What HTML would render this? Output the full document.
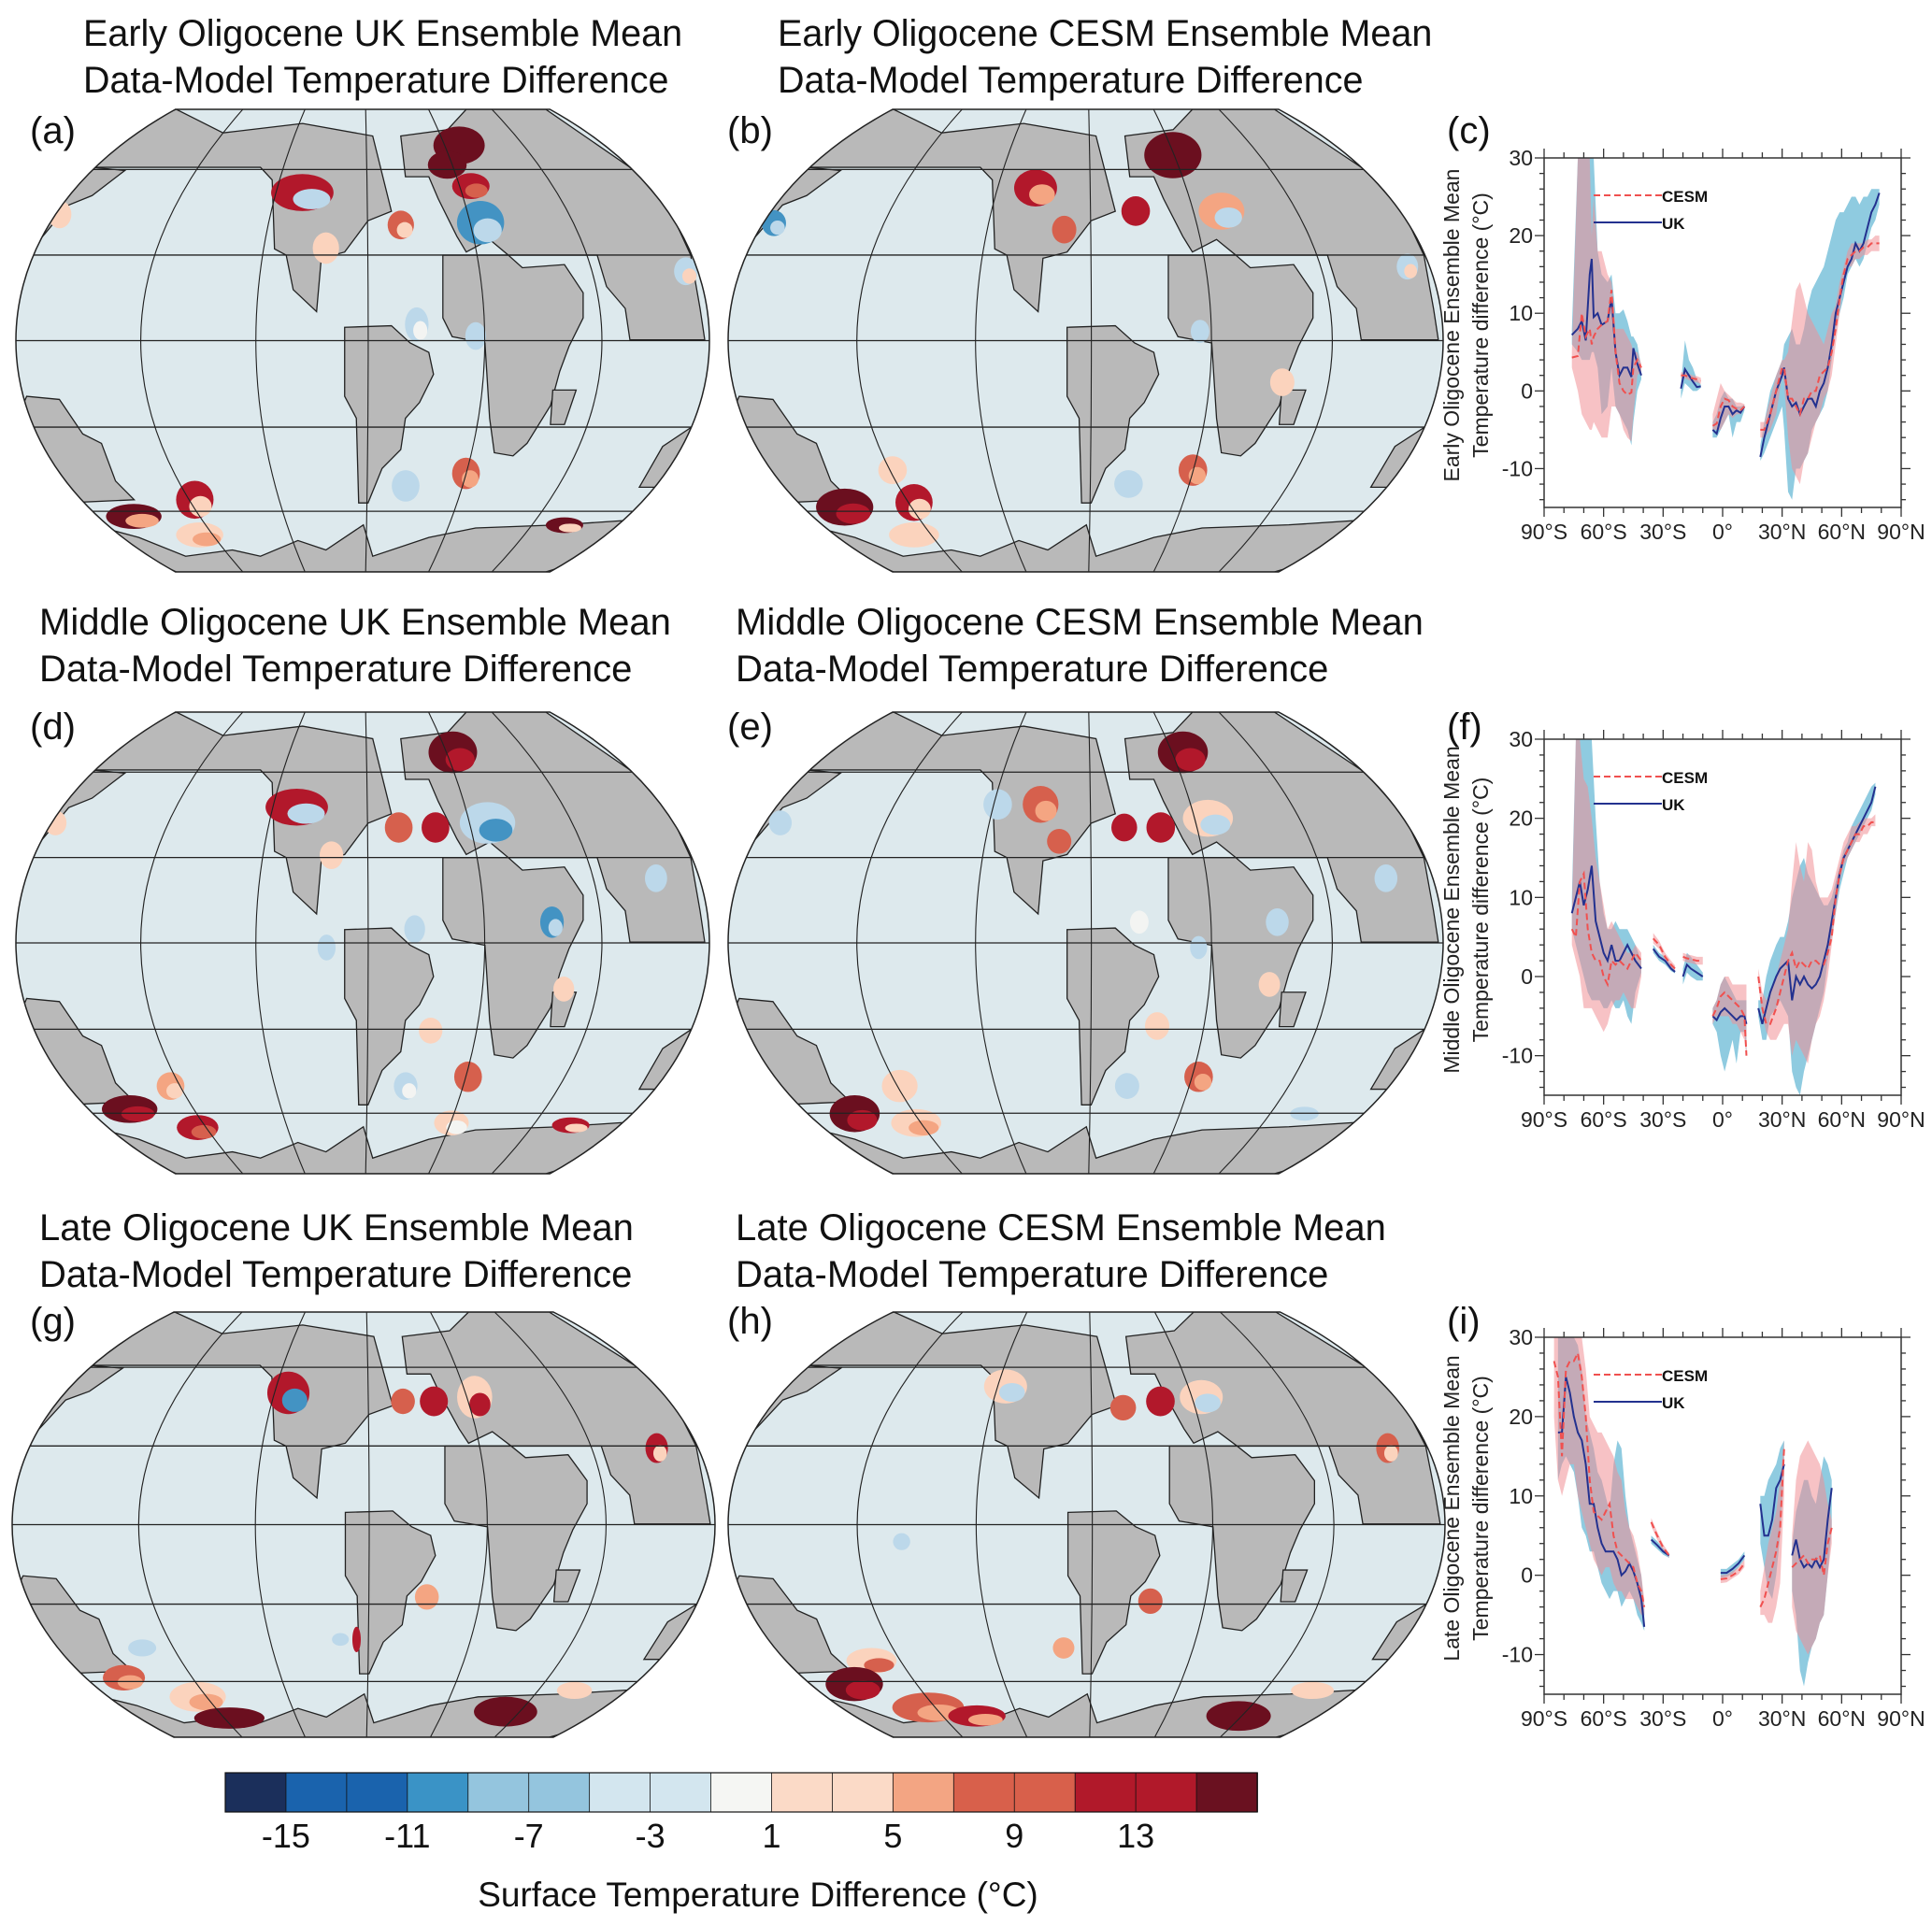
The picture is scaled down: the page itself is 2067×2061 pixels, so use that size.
<!DOCTYPE html>
<html><head><meta charset="utf-8">
<style>
html,body{margin:0;padding:0;background:#fff;}
#root{position:relative;width:2067px;height:2061px;overflow:hidden;font-family:"Liberation Sans",sans-serif;}
.t{position:absolute;font-size:39.5px;line-height:50px;color:#111;white-space:nowrap;}
.t2{font-size:40px;}
.pl{position:absolute;font-size:40px;color:#111;}
svg{position:absolute;left:0;top:0;overflow:visible;}
</style></head>
<body>
<div id="root">
<div class="t" style="left:89px;top:11px">Early Oligocene UK Ensemble Mean<br>Data-Model Temperature Difference</div>
<div class="t" style="left:832px;top:11px">Early Oligocene CESM Ensemble Mean<br>Data-Model Temperature Difference</div>
<div class="t t2" style="left:42px;top:641px">Middle Oligocene UK Ensemble Mean<br>Data-Model Temperature Difference</div>
<div class="t t2" style="left:787px;top:641px">Middle Oligocene CESM Ensemble Mean<br>Data-Model Temperature Difference</div>
<div class="t t2" style="left:42px;top:1289px">Late Oligocene UK Ensemble Mean<br>Data-Model Temperature Difference</div>
<div class="t t2" style="left:787px;top:1289px">Late Oligocene CESM Ensemble Mean<br>Data-Model Temperature Difference</div>
<div class="pl" style="left:32px;top:118px">(a)</div>
<div class="pl" style="left:778px;top:118px">(b)</div>
<div class="pl" style="left:1548px;top:118px">(c)</div>
<div class="pl" style="left:32px;top:756px">(d)</div>
<div class="pl" style="left:778px;top:756px">(e)</div>
<div class="pl" style="left:1548px;top:756px">(f)</div>
<div class="pl" style="left:32px;top:1392px">(g)</div>
<div class="pl" style="left:778px;top:1392px">(h)</div>
<div class="pl" style="left:1548px;top:1392px">(i)</div>
<svg id="main" width="2067" height="2061"></svg>
</div>
<script>
// ---------- colorbar data ----------
const cbColors=["#1b2f5b","#1a63ad","#1a63ad","#3a93c6","#94c5de","#94c5de","#d3e6ef","#d3e6ef","#f5f6f3","#fbdac7","#fbdac7","#f3a583","#d8604b","#d8604b","#b1192a","#b1192a","#6a1120"];
const cbLabels=["-15","-11","-7","-3","1","5","9","13"];
const blobColors={dk:"#6b0f1f",r:"#b2182b",o:"#d6604d",s:"#f4a582",p:"#fbd3bd",w:"#f3f4f2",lb:"#bcd8ea",b:"#4393c3"};
// ---------- map blobs [u, v, ru, rv, color, innerColor] ----------
const blobsA=[[.639,.078,.037,.041,"dk"],[.622,.12,.028,.03,"dk"],[.656,.166,.027,.028,"r","o"],[.413,.18,.045,.04,"r","lb"],[.555,.25,.019,.031,"o","p"],[.447,.30,.019,.034,"p"],[.67,.245,.034,.047,"b","lb"],[.578,.465,.017,.037,"lb","w"],[.663,.49,.015,.03,"lb"],[.966,.35,.017,.03,"lb","p"],[.063,.227,.017,.03,"p"],[.17,.88,.04,.027,"dk","s"],[.258,.844,.027,.041,"r","p"],[.265,.92,.034,.027,"p","s"],[.649,.787,.02,.034,"o","s"],[.562,.814,.02,.034,"lb"],[.791,.899,.027,.017,"dk","p"]];
const blobsB=[[.622,.099,.04,.05,"dk"],[.43,.17,.03,.04,"r","s"],[.47,.26,.017,.03,"o"],[.57,.22,.02,.032,"r"],[.69,.22,.032,.04,"s","lb"],[.064,.246,.017,.028,"b","lb"],[.95,.34,.015,.028,"lb","p"],[.66,.48,.013,.025,"lb"],[.775,.59,.017,.03,"p"],[.56,.81,.02,.03,"lb"],[.65,.78,.02,.034,"o","s"],[.163,.86,.04,.04,"dk","r"],[.26,.85,.026,.04,"r","p"],[.26,.92,.035,.027,"p"],[.23,.78,.02,.03,"p"]];
const blobsD=[[.63,.087,.035,.045,"dk","r"],[.405,.206,.045,.04,"r","lb"],[.455,.31,.017,.03,"p"],[.552,.25,.02,.033,"o"],[.605,.25,.02,.033,"r"],[.68,.24,.04,.045,"lb","b"],[.057,.24,.016,.027,"p"],[.923,.36,.016,.03,"lb"],[.773,.455,.017,.034,"b","lb"],[.575,.47,.015,.03,"lb"],[.448,.51,.013,.028,"lb"],[.79,.60,.015,.027,"p"],[.598,.69,.017,.028,"p"],[.652,.79,.02,.033,"o"],[.223,.81,.02,.03,"s","p"],[.562,.81,.017,.03,"lb","w"],[.628,.89,.025,.027,"p","w"],[.164,.86,.04,.03,"dk","r"],[.262,.9,.03,.027,"r","o"],[.8,.895,.027,.017,"r","p"]];
const blobsE=[[.636,.087,.035,.045,"dk","r"],[.437,.20,.025,.04,"o","s"],[.377,.20,.02,.033,"lb"],[.463,.28,.017,.027,"o"],[.554,.25,.018,.03,"r"],[.605,.25,.02,.033,"r"],[.671,.23,.035,.04,"p","lb"],[.073,.24,.016,.027,"lb"],[.92,.36,.016,.03,"lb"],[.768,.455,.016,.03,"lb"],[.575,.455,.013,.025,"w"],[.658,.51,.012,.025,"lb"],[.757,.59,.015,.027,"p"],[.60,.68,.017,.03,"p"],[.658,.79,.02,.033,"o","s"],[.24,.81,.025,.035,"p"],[.558,.81,.017,.028,"lb"],[.177,.87,.035,.04,"dk","r"],[.263,.89,.035,.03,"p","s"],[.806,.87,.02,.015,"lb"]];
const blobsG=[[.393,.19,.03,.05,"r","b"],[.556,.21,.017,.03,"o"],[.6,.21,.02,.035,"r"],[.658,.20,.025,.05,"p","r"],[.917,.32,.016,.035,"r","p"],[.59,.67,.017,.03,"s"],[.49,.77,.006,.03,"r"],[.467,.77,.012,.015,"lb"],[.185,.79,.02,.02,"lb"],[.159,.86,.03,.03,"o","s"],[.264,.905,.04,.035,"p","s"],[.309,.955,.05,.025,"dk"],[.702,.94,.045,.035,"dk"],[.8,.89,.025,.02,"p"]];
const blobsH=[[.387,.175,.03,.04,"p","lb"],[.551,.225,.018,.03,"o"],[.603,.21,.02,.035,"r"],[.66,.2,.03,.04,"p","lb"],[.92,.32,.016,.035,"o","p"],[.242,.54,.012,.02,"lb"],[.589,.68,.017,.03,"o"],[.468,.79,.015,.025,"s"],[.2,.82,.035,.03,"p","o"],[.176,.875,.04,.04,"dk","r"],[.279,.93,.05,.035,"o","s"],[.347,.95,.04,.025,"r","s"],[.712,.95,.045,.035,"dk"],[.815,.89,.03,.02,"p"]];

// ---------- chart data (latitude, values; null = gap) ----------
const cLat=[-76,-73,-71,-69,-67,-66,-65,-63,-61,-58,-56,-54,-52,-50,-48,-46,-45,-43,-41,null,-21,-19,-17,-15,-13,-11,null,-5,-3,-1,1,3,5,7,9,11,null,19,21,24,27,30,31,33,35,37,39,41,43,45,47,49,51,53,55,57,59,61,63,65,67,69,71,73,75,77,79];
const cUK=[7.2,8,9,6.5,15,17,9.5,10,8.5,9,12,5,2,3,3,1.8,5.5,3.5,2,null,0.3,2.8,2,1.2,0.5,0.6,null,-5,-5.5,-3.5,-2,-2,-3,-2.5,-2.8,-2,null,-8.5,-6,-3,0,2,3,-1,-2,-1.5,-3,-2,-1,-1,-2,0,1,3,6,10,12,14,16,17,19,18,19,21,23,24,25.5];
const cUKlo=[6,5,4,4,4,5,5,3,-3,-2,3,-2,-3,-4,-5,-7,-4,0,1.5,null,-1,1,0.5,0,0,0.4,null,-6,-6,-5,-4,-3,-6,-4,-4,-2.5,null,-9,-8,-6,-4,-2,-5,-13,-14,-10,-10,-9,-8,-5,-4,-3,-2,0,4,8,10,12,15,16,17,16,17,19,21,22,24];
const cUKhi=[8,30,30,30,30,30,30,18,15,14,15,10,10,10.5,9,7,7,6,3,null,1,6.5,4,3,1.5,0.8,null,-4,-3,-1,0,-1,-1,-2,-2,-1.8,null,-7,-4,0,2,4,6,7,8,6,6,8,11,13,14,15,16,18,20,22,23,23,24,25,25,24,25,25,26,26,26];
const cCESM=[4.3,4.5,10,7,8,6,7,8,8.5,9,13,5,1,0,-0.5,-0.2,3,4,3,null,2,2,1.8,1.6,1.5,1.3,null,-4.5,-4.2,-2,-1,-1.2,-2,-2.3,-2.5,-2,null,-5,-5,-3,0,3,3,-1,-1,-2,-3,-1,-1,0,0,2,2.5,3,5,8,12,15,17,17.5,18,18,18.5,18.5,19,19,19];
const cCESMlo=[3,0,-3,-4,-5,-5,-4,-5,-6,-6,-2,-2,-3,-5,-6,-6.5,-3,2,2.5,null,1.6,1.6,1.4,1.2,1.1,0.9,null,-5,-5,-5,-4,-3,-3.5,-3,-3,-2.3,null,-6,-6,-5,-3,2,1,-6,-10,-11,-12,-9,-8,-6,-4,-3,-1,0,2,6,10,14,16,16,17,17,17.5,17.5,18,18,18];
const cCESMhi=[5,30,30,30,30,20,25,18,18,15,14,8,8,8,7,6,5,5,3.5,null,2.4,2.4,2.2,2,1.9,1.7,null,-3,-1,1,0,-0.5,-1,-1.5,-1.5,-1.7,null,-4,-4,-1,2,4,4,5,9,13,14,12,10,9,8,7,6,8,10,11,14,16,18,19,19,19,19,19.5,19.5,20,20];

const fLat=[-76,-74,-72,-70,-68,-66,-64,-62,-60,-58,-56,-54,-52,-50,-48,-46,-44,-41,null,-35,-32,-29,-26,-24,null,-20,-18,-16,-13,-10,null,-5,-3,-1,1,3,5,7,9,11,12,null,18,20,22,24,27,29,31,33,35,37,39,41,43,45,47,49,51,53,55,57,59,61,63,65,67,69,71,73,75,77];
const fUK=[8,10,12,9,11,14,7,5,3,2,4,2,2,3,4,3,2,1,null,3.5,2.5,2,1,0.6,null,0,1.5,1,0.5,0,null,-5,-5.5,-4.5,-4,-4.5,-5,-5.5,-5,-5,-6,null,-4,-6,-4,-2,0,1,1.5,2,-3,0,-1,0,-1,-1.5,-1,0,2,4,7,10,13,15,16,17,18,19,20,21,22,24];
const fUKlo=[6,4,2,0,-2,-3,-3,-3,-4,-4,-3,-4,-4,-3,-5,-6,-2,0.5,null,3,2,1.5,0.7,0.4,null,-1,0.5,0,-0.5,-0.5,null,-6,-7,-10,-12,-10,-8,-11,-7,-7,-10,null,-5,-8,-8,-5,-4,-3,-4,-5,-12,-14,-15,-12,-10,-8,-6,-4,-2,2,5,8,11,13,15,16,17,18,19,20,21,23];
const fUKhi=[10,30,30,30,30,30,20,12,8,6,6,7,6,6,6,5,4,2,null,4,3,2.5,1.5,0.8,null,1,3,2.5,1.5,0.5,null,-4,-3,-1,0,-1,-2,-3,-3,-3,-3,null,-3,-3,0,2,4,5,5,7,10,12,14,15,13,12,11,10,9,9,10,12,14,16,17,19,20,21,22,23,24,24.5];
const fCESM=[6,5,12,13,6,3,2,2,0,-1,2,1.5,2,1.5,1,2,3,2,null,4.8,4,2.5,1.5,1,null,2.5,2.3,2.2,2,2,null,-5,-4,-2.5,-2,-2.5,-3,-3.5,-4,-5,-10,null,0,-4,-6,-6,-4,-2,0,2,3,1,2,1.5,1,2,2,1.5,1.5,3,5,10,13,15,16,17,18,18,19,19,19.5,19.5];
const fCESMlo=[4,2,0,-4,-4,-4,-5,-6,-7,-6,-4,-3,-3,-2,-3,-4,-4,0,null,4.2,3.5,2,1,0.6,null,2,1.8,1.7,1.5,1.5,null,-6,-5,-5,-5,-5,-6,-6,-7,-8,-10,null,-1,-5,-7,-8,-8,-7,-6,-6,-10,-8,-9,-10,-11,-8,-6,-5,-3,0,4,8,12,14,15,16,17,17,18,18,19,19];
const fCESMhi=[8,30,30,25,24,20,15,12,9,6,7,6,5,4,3,3,4,3,null,5.5,4.5,3,2,1.4,null,3,2.8,2.7,2.5,2.5,null,-4,-3,-1,0,0,-1,-1,-1,-1,-1,null,1,-2,-3,-2,0,2,4,6,12,17,14,12,17,16,12,10,10,10,11,13,15,17,18,19,19,19.5,20,20,20,20.5];

const iLat=[-85,-83,-81,-79,-77,-75,-73,-71,-69,-67,-65,-63,-61,-59,-57,-55,-53,-51,-49,-47,-45,-43,-41,-39.5,null,-36,-33,-30,-27,null,-1,2,5,8,11,null,19,21,23,25,27,29,31,null,35,37,39,41,43,45,47,49,51,53,55];
const iUK=[null,18,18,25,23,20,18,17,14,9,9,6,4,3,3,3,2,0,0.5,1.5,0.5,-1,-3,-6.5,null,4.5,3.8,3,2.5,null,0.3,0.3,0.8,1.5,2.5,null,9,5,5,7,11,12,14,null,2.5,4.5,2,1,1.5,1,2,1,2,7,11];
const iUKlo=[null,12,14,15,14,13,10,6,5,3,3,1,-1,-2,-3,-2,-2,-4,-3,-2,-3,-5,-6,-7,null,4,3.3,2.6,2.2,null,-0.3,-0.2,0.2,1,2,null,4,1,-2,-3,0,5,13,null,-2,-5,-12,-14,-11,-9,-8,-6,-5,0,6];
const iUKhi=[null,30,30,30,30,30,29,26,20,18,16,13,12,10,8,14,17,16,10,6,4,2,0,-4,null,5,4.3,3.4,2.8,null,0.8,0.8,1.4,2,3,null,10,10,12,13,14,16,17,null,4,8,10,12,12,10,9,12,15,14,12];
const iCESM=[27,25,15,26,27,27,28,25,20,12,8,7.5,7,8,9,5,3,2.5,2,1.5,1,-1,-2,-4,null,6.7,5,3.5,2.5,null,-0.5,-0.4,0,0.5,1.5,null,-4,-3,-1,1,3,6,16,null,1,1.5,2,2.5,1.5,2,2,2.5,0,4,6];
const iCESMlo=[20,12,10,12,14,14,10,8,6,4,2,1,0,1,1,-1,-2,-2,-3,-3,-3,-4,-5,-5,null,6.2,4.5,3.1,2.2,null,-1,-0.9,-0.4,0.1,1,null,-5,-5,-6,-6,-4,-1,10,null,-4,-7,-8,-9,-10,-9,-8,-6,-5,0,4];
const iCESMhi=[30,30,30,30,30,30,30,30,26,20,19,18,18,17,16,15,13,12,8,6,5,3,0,-3,null,7.2,5.5,3.9,2.8,null,0,0.1,0.5,1,2,null,-2,1,4,6,8,12,17,null,5,12,15,16,17,16,15,14,12,9,7];

// ---------- helpers ----------
const NS="http://www.w3.org/2000/svg";
const main=document.getElementById('main');
function el(tag,attrs,parent){const e=document.createElementNS(NS,tag);for(const k in attrs)e.setAttribute(k,attrs[k]);(parent||main).appendChild(e);return e;}

// ---------- maps ----------
const landPolys=[
"200,200 560,200 585,240 590,460 615,480 630,590 680,660 690,490 740,470 790,370 840,340 800,100 650,60 480,90 420,45 380,15 300,60",
"60,480 100,410 150,320 200,290 270,210 200,200 130,260 75,380",
"860,100 960,80 1000,15 1170,15 1360,210 1440,350 1480,480 1500,650 1510,750 1350,750 1340,650 1300,580 1280,480 1090,480 1050,430 1000,470 980,420 940,300 920,230 870,230",
"950,480 1090,480 1120,520 1210,510 1250,600 1250,680 1220,770 1200,850 1180,960 1130,1080 1100,1120 1060,1110 1050,1000 1040,760 970,740 950,680",
"1185,910 1235,910 1210,1020 1180,1020",
"740,710 840,705 880,760 920,790 930,860 900,950 870,1000 860,1100 820,1160 790,1270 770,1270 765,1000 740,930",
"40,1000 60,930 130,940 180,1050 220,1080 250,1200 290,1260 140,1270 130,1180 60,1030",
"100,1300 300,1380 400,1440 500,1420 560,1440 640,1390 700,1420 780,1340 800,1440 920,1380 1020,1350 1200,1340 1400,1320 1280,1440 1170,1490 380,1490",
"1370,1220 1420,1090 1480,1030 1500,1050 1460,1130 1410,1220"];
let clipN=0;
function drawMap(name,x,y,w,h,blobs){
  const VX=37,VY=15,VW=1483,VH=1475;
  const svg=el('svg',{x:x,y:y,width:w,height:h,viewBox:`${VX} ${VY} ${VW} ${VH}`,preserveAspectRatio:'none'});
  
  
  const P=(u,v)=>`${VX+u*VW},${VY+v*VH}`;
  const shape=`M${P(.23,0)} L${P(.77,0)} C${P(.95,.15)} ${P(1,.35)} ${P(1,.5)} C${P(1,.65)} ${P(.95,.85)} ${P(.77,1)} L${P(.23,1)} C${P(.05,.85)} ${P(0,.65)} ${P(0,.5)} C${P(0,.35)} ${P(.05,.15)} ${P(.23,0)} Z`;
  const id='clip'+(clipN++);
  const cp=el('clipPath',{id:id},svg);el('path',{d:shape},cp);
  const g=el('g',{'clip-path':`url(#${id})`},svg);
  const ocean=el('path',{d:shape,fill:'#dde9ed'},g);
  
  
  landPolys.forEach(p=>{const l=el('polygon',{points:p,fill:'#b9b9b9',stroke:'#222','stroke-width':1.3,'vector-effect':'non-scaling-stroke'},g);
    
    });
  blobs.forEach(b=>{
    const e=el('ellipse',{cx:VX+b[0]*VW,cy:VY+b[1]*VH,rx:b[2]*VW,ry:b[3]*VH,fill:blobColors[b[4]]},g);
    
    
    if(b[5]){el('ellipse',{cx:VX+(b[0]+b[2]*0.3)*VW,cy:VY+(b[1]+b[3]*0.35)*VH,rx:b[2]*0.6*VW,ry:b[3]*0.55*VH,fill:blobColors[b[5]]},g);}
  });
  [.13,.315,.5,.687,.869].forEach(v=>{el('line',{x1:VX,x2:VX+VW,y1:VY+v*VH,y2:VY+v*VH,stroke:'#222','stroke-width':1.3,'vector-effect':'non-scaling-stroke'},g);});
  [.18,.346,.508,.676,.845].forEach(u=>{const xt=.5+(u-.5)*.54;const c=2*u-xt;
    el('path',{d:`M${P(xt,0)} Q${P(c,.5)} ${P(xt,1)}`,fill:'none',stroke:'#222','stroke-width':1.1,'vector-effect':'non-scaling-stroke'},g);});
  el('path',{d:shape,fill:'none',stroke:'#222','stroke-width':1.5,'vector-effect':'non-scaling-stroke'},svg);
}
drawMap('map-a',17,117,742,495,blobsA);
drawMap('map-b',779,117,765,495,blobsB);
drawMap('map-d',17,762,742,494,blobsD);
drawMap('map-e',779,762,765,494,blobsE);
drawMap('map-g',13,1404,752,455,blobsG);
drawMap('map-h',779,1404,767,455,blobsH);

// ---------- line charts ----------
function drawChart(pre,yT,yB,title,lat,uk,ukLo,ukHi,ce,ceLo,ceHi,legY){
  const X0=1652,X1=2034;
  const sx=v=>X0+(v+90)/180*(X1-X0);
  const sy=v=>yT+(30-v)/45*(yB-yT);
  const g=el('g',{});
  
  
  const cp=el('clipPath',{id:pre+'clip'},g);el('rect',{x:X0,y:yT,width:X1-X0,height:yB-yT},cp);
  const pg=el('g',{'clip-path':`url(#${pre}clip)`},g);
  function segs(){const out=[];let cur=[];lat.forEach((v,i)=>{if(v===null){if(cur.length)out.push(cur);cur=[];}else cur.push(i);});if(cur.length)out.push(cur);return out;}
  function band(lo,hi,fill,op,name){segs().forEach(s=>{const idx=s.filter(i=>lo[i]!==null&&hi[i]!==null);if(idx.length<2)return;
    const pts=idx.map(i=>`${sx(lat[i])},${sy(hi[i])}`).concat(idx.slice().reverse().map(i=>`${sx(lat[i])},${sy(lo[i])}`));
    const p=el('polygon',{points:pts.join(' '),fill:fill,'fill-opacity':op},pg);
    
    });}
  function line(vals,col,dash,name){segs().forEach(s=>{const idx=s.filter(i=>vals[i]!==null);if(idx.length<2)return;
    const p=el('polyline',{points:idx.map(i=>`${sx(lat[i])},${sy(vals[i])}`).join(' '),fill:'none',stroke:col,'stroke-width':2,'stroke-dasharray':dash},pg);
    
    });}
  band(ukLo,ukHi,'#8fcbe0',1,'uk-range');
  band(ceLo,ceHi,'#f08f96',0.55,'cesm-range');
  line(uk,'#23318f','none','uk-line');
  line(ce,'#f0504f','7,4','cesm-line');
  el('rect',{x:X0,y:yT,width:X1-X0,height:yB-yT,fill:'none',stroke:'#333','stroke-width':1.5},g);
  for(let v=-90;v<=90;v+=10){const mj=v%30===0;const L=mj?10:6;
    el('line',{x1:sx(v),x2:sx(v),y1:yB,y2:yB+L,stroke:'#333','stroke-width':1.3},g);
    el('line',{x1:sx(v),x2:sx(v),y1:yT,y2:yT-L,stroke:'#333','stroke-width':1.3},g);}
  for(let v=-14;v<=30;v+=2){const mj=v%10===0;const L=mj?10:5;
    el('line',{x1:X0,x2:X0-L,y1:sy(v),y2:sy(v),stroke:'#333','stroke-width':1.3},g);
    el('line',{x1:X1,x2:X1+L,y1:sy(v),y2:sy(v),stroke:'#333','stroke-width':1.3},g);}
  ["30","20","10","0","-10"].forEach(s=>{const t=el('text',{x:X0-12,y:sy(+s)+8,'text-anchor':'end','font-size':23,fill:'#222'},g);t.textContent=s;
    
    });
  const xl=["90°S","60°S","30°S","0°","30°N","60°N","90°N"];
  xl.forEach((s,i)=>{const t=el('text',{x:sx(-90+30*i),y:yB+34,'text-anchor':'middle','font-size':23,fill:'#222'},g);t.textContent=s;
    
    });
  const cy=(yT+yB)/2-8;
  [[title,1561],["Temperature difference (°C)",1592]].forEach(a=>{const t=el('text',{x:a[1],y:cy,transform:`rotate(-90 ${a[1]} ${cy})`,'text-anchor':'middle','font-size':23,fill:'#222'},g);t.textContent=a[0];
    
    });
  const lx=1705;
  el('line',{x1:lx,x2:lx+73,y1:legY,y2:legY,stroke:'#f0504f','stroke-width':2,'stroke-dasharray':'7,4'},g);
  el('line',{x1:lx,x2:lx+73,y1:legY+29,y2:legY+29,stroke:'#23318f','stroke-width':2},g);
  const t1=el('text',{x:lx+73,y:legY+7,'font-size':17,'font-weight':'bold',fill:'#111'},g);t1.textContent="CESM";
  
  
  const t2=el('text',{x:lx+73,y:legY+36,'font-size':17,'font-weight':'bold',fill:'#111'},g);t2.textContent="UK";
  
  
}
drawChart('c',169,543,"Early Oligocene Ensemble Mean",cLat,cUK,cUKlo,cUKhi,cCESM,cCESMlo,cCESMhi,209);
drawChart('f',791,1172,"Middle Oligocene Ensemble Mean",fLat,fUK,fUKlo,fUKhi,fCESM,fCESMlo,fCESMhi,831);
drawChart('i',1431,1813,"Late Oligocene Ensemble Mean",iLat,iUK,iUKlo,iUKhi,iCESM,iCESMlo,iCESMhi,1471);

// ---------- colorbar ----------
const cbX=241,cbW=1104,cbY=1897,cbH=42,cw=cbW/cbColors.length;
cbColors.forEach((c,i)=>{const r=el('rect',{x:cbX+i*cw,y:cbY,width:cw+0.5,height:cbH,fill:c,stroke:'#111','stroke-width':0.8});
  
  });
el('rect',{x:cbX,y:cbY,width:cbW,height:cbH,fill:'none',stroke:'#111','stroke-width':1.2});
cbLabels.forEach((s,i)=>{const t=el('text',{x:cbX+(1+2*i)*cw,y:cbY+cbH+38,'text-anchor':'middle','font-size':36,fill:'#111'});t.textContent=s;
  
  });
const ct=el('text',{x:811,y:2040,'text-anchor':'middle','font-size':37,fill:'#111'});ct.textContent="Surface Temperature Difference (°C)";


</script>
</body></html>
